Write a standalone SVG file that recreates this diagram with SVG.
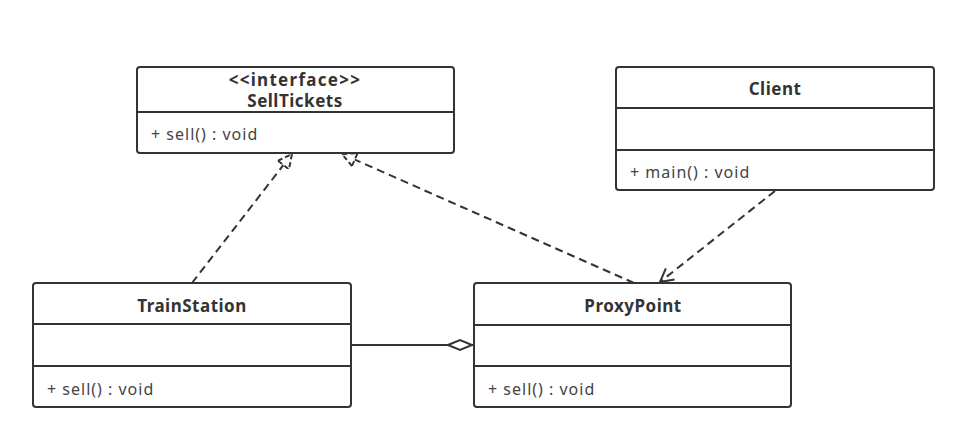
<svg xmlns="http://www.w3.org/2000/svg" width="963" height="444" viewBox="0 0 963 444">
<style>
.box{fill:#fff;stroke:#333;stroke-width:2}
.div{stroke:#333;stroke-width:2}
.title{font-family:"Noto Sans","Open Sans",sans-serif;font-size:17px;font-weight:bold;fill:#333;text-anchor:middle;letter-spacing:0.5px}
.member{font-family:"Noto Sans","Open Sans",sans-serif;font-size:16px;fill:#444;letter-spacing:1px}
.dash{fill:none;stroke:#333;stroke-width:2;stroke-dasharray:8 5}
.solid{fill:none;stroke:#333;stroke-width:2}
</style>
<defs>
<marker id="realize" markerUnits="userSpaceOnUse" markerWidth="20" markerHeight="20" refX="15" refY="8" orient="auto">
<path d="M1,1 L15,8 L1,15 Z" fill="#fff" stroke="#333" stroke-width="2" stroke-dasharray="5 3"/>
</marker>
<marker id="open" markerUnits="userSpaceOnUse" markerWidth="20" markerHeight="20" refX="14" refY="8" orient="auto">
<path d="M1,1 L14,8 L1,15" fill="none" stroke="#333" stroke-width="2"/>
</marker>
<marker id="diamond" markerUnits="userSpaceOnUse" markerWidth="30" markerHeight="16" refX="26" refY="8" orient="auto">
<path d="M1,8 L13,3 L25,8 L13,13 Z" fill="#fff" stroke="#333" stroke-width="2"/>
</marker>
</defs>
<g id="connectors">
<path class="dash" d="M192,283 L292,154" marker-end="url(#realize)"/>
<path class="dash" d="M634,283 L342,154" marker-end="url(#realize)"/>
<path class="dash" d="M775,191 L660,282" marker-end="url(#open)"/>
<path class="solid" d="M351,345 L473,345" marker-end="url(#diamond)"/>
</g>
<g id="SellTickets">
<rect class="box" x="137" y="67" width="317" height="86" rx="3"/>
<line class="div" x1="137" y1="112" x2="454" y2="112"/>
<text class="title" x="295" y="86" style="letter-spacing:1.3px">&lt;&lt;interface&gt;&gt;</text>
<text class="title" x="295" y="107">SellTickets</text>
<text class="member" x="151" y="140">+ sell() : void</text>
</g>
<g id="Client">
<rect class="box" x="616" y="67" width="318" height="123" rx="3"/>
<line class="div" x1="616" y1="108" x2="934" y2="108"/>
<line class="div" x1="616" y1="150" x2="934" y2="150"/>
<text class="title" x="775" y="95">Client</text>
<text class="member" x="630" y="178">+ main() : void</text>
</g>
<g id="TrainStation">
<rect class="box" x="33" y="283" width="318" height="124" rx="3"/>
<line class="div" x1="33" y1="324" x2="351" y2="324"/>
<line class="div" x1="33" y1="366" x2="351" y2="366"/>
<text class="title" x="192" y="312">TrainStation</text>
<text class="member" x="47" y="395">+ sell() : void</text>
</g>
<g id="ProxyPoint">
<rect class="box" x="474" y="283" width="317" height="124" rx="3"/>
<line class="div" x1="474" y1="325" x2="791" y2="325"/>
<line class="div" x1="474" y1="366" x2="791" y2="366"/>
<text class="title" x="633" y="312">ProxyPoint</text>
<text class="member" x="488" y="395">+ sell() : void</text>
</g>
</svg>
